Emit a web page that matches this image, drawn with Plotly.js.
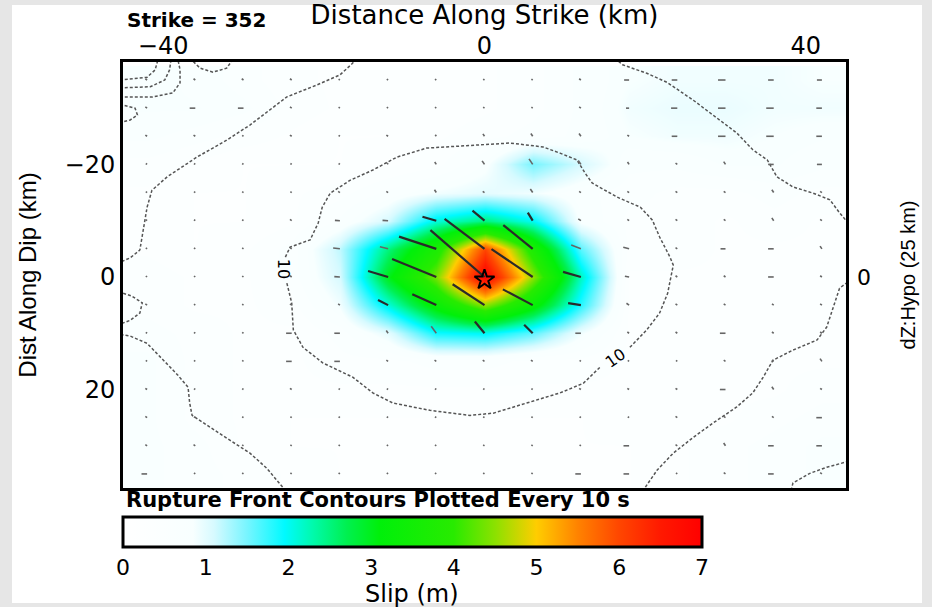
<!DOCTYPE html>
<html><head><meta charset="utf-8">
<script src="https://cdn.plot.ly/plotly-3.0.1.min.js"></script>
<style>html,body{margin:0;padding:0;background:#e6e6e6;}#chart{width:932px;height:607px;}</style>
</head><body><div id="chart"></div>
<script>
// subfault centres (km)
const strikeX = [-42,-36,-30,-24,-18,-12,-6,0,6,12,18,24,30,36,42];
const dipY = [-35,-30,-25,-20,-15,-10,-5,0,5,10,15,20,25,30,35];
// slip field (m), rows follow dipY, columns follow strikeX
const slip = [
 [0.85,0.75,0.6,0.45,0.4,0.35,0.35,0.4,0.5,0.7,0.85,0.9,0.9,0.9,0.85],
 [0.8,0.8,0.7,0.5,0.4,0.35,0.35,0.4,0.5,0.7,0.9,0.95,0.95,0.9,0.9],
 [0.7,0.6,0.5,0.4,0.3,0.3,0.4,0.5,0.6,0.7,0.85,0.9,0.9,0.85,0.8],
 [0.5,0.4,0.3,0.3,0.3,0.4,0.5,0.8,1.5,1.1,0.7,0.7,0.8,0.8,0.7],
 [0.4,0.3,0.3,0.4,0.5,0.7,0.9,1.0,0.9,0.7,0.6,0.5,0.5,0.6,0.5],
 [0.4,0.3,0.3,0.4,0.7,1.1,2.1,2.5,2.0,0.8,0.5,0.5,0.4,0.5,0.4],
 [0.4,0.3,0.4,0.6,1.2,2.5,3.7,6.0,3.7,1.6,0.5,0.5,0.4,0.4,0.4],
 [0.5,0.4,0.4,0.6,1.1,3.0,4.4,6.9,4.5,2.2,0.4,0.4,0.4,0.4,0.4],
 [0.5,0.4,0.4,0.5,0.9,2.1,3.3,4.5,3.3,1.8,0.4,0.4,0.4,0.4,0.4],
 [0.6,0.5,0.4,0.4,0.6,1.0,1.9,2.0,1.6,0.9,0.4,0.4,0.4,0.4,0.4],
 [0.7,0.5,0.4,0.4,0.5,0.5,0.6,0.6,0.5,0.5,0.4,0.4,0.4,0.4,0.4],
 [0.7,0.5,0.4,0.4,0.4,0.4,0.4,0.4,0.4,0.4,0.4,0.4,0.4,0.4,0.5],
 [0.7,0.5,0.4,0.3,0.3,0.3,0.3,0.3,0.3,0.3,0.4,0.4,0.4,0.5,0.6],
 [0.7,0.6,0.4,0.3,0.3,0.3,0.3,0.3,0.3,0.3,0.3,0.4,0.5,0.6,0.7],
 [0.7,0.6,0.5,0.4,0.3,0.3,0.3,0.3,0.3,0.3,0.3,0.4,0.5,0.6,0.7]
];
// slip vector amplitude (m) per subfault
const vecSlip = [
 [0.2,0.2,0.2,0.2,0.15,0.15,0.15,0.15,0.15,0.2,0.4,0.45,0.6,0.45,0.4],
 [0.2,0.45,0.45,0.2,0.15,0.15,0.15,0.15,0.15,0.2,0.25,0.5,0.6,0.6,0.45],
 [0.2,0.2,0.15,0.2,0.15,0.2,0.2,0.3,0.35,0.35,0.2,0.45,0.6,0.6,0.45],
 [0.15,0.15,0.15,0.15,0.15,0.2,0.3,0.45,0.7,0.5,0.3,0.2,0.35,0.45,0.4],
 [0.15,0.15,0.15,0.15,0.2,0.2,0.35,0.2,0.45,0.2,0.2,0.2,0.2,0.35,0.2],
 [0.15,0.15,0.15,0.2,0.4,0.45,1.2,1.5,1.0,0.3,0.2,0.2,0.2,0.35,0.2],
 [0.15,0.15,0.15,0.2,0.55,0.7,3.3,4.7,3.6,0.9,0.5,0.2,0.4,0.45,0.35],
 [0.15,0.15,0.15,0.2,0.45,1.75,4.1,6.9,4.6,1.55,0.35,0.2,0.2,0.45,0.2],
 [0.2,0.15,0.15,0.2,0.2,1.0,2.3,3.5,3.0,1.05,0.3,0.2,0.2,0.2,0.2],
 [0.15,0.15,0.15,0.45,0.45,0.35,0.9,1.55,1.2,0.45,0.2,0.2,0.45,0.2,0.2],
 [0.15,0.15,0.15,0.45,0.45,0.2,0.2,0.2,0.2,0.15,0.15,0.15,0.2,0.2,0.35],
 [0.2,0.15,0.15,0.2,0.15,0.15,0.15,0.15,0.15,0.2,0.2,0.2,0.45,0.35,0.2],
 [0.2,0.15,0.15,0.15,0.15,0.15,0.15,0.15,0.15,0.15,0.15,0.2,0.2,0.2,0.45],
 [0.2,0.2,0.15,0.15,0.15,0.15,0.15,0.15,0.15,0.15,0.45,0.2,0.35,0.45,0.45],
 [0.45,0.15,0.15,0.15,0.15,0.15,0.15,0.15,0.15,0.45,0.45,0.15,0.2,0.45,0.2]
];
// slip vector direction (deg above the up-strike horizontal)
const vecAngle = [
 [45,45,45,45,45,45,45,45,45,45,0,0,0,0,0],
 [45,0,0,45,45,45,45,45,45,45,0,0,0,0,0],
 [45,45,45,45,45,45,65,65,65,65,45,0,0,0,0],
 [45,45,45,45,45,65,65,65,65,65,65,45,65,0,0],
 [45,45,45,45,45,45,65,45,65,45,45,45,45,65,45],
 [45,45,45,45,5,5,22,50,67,45,45,45,45,65,45],
 [45,45,45,45,10,19,25,47,49,30,20,45,0,0,65],
 [45,45,45,45,5,23,30,51,44,22,15,45,45,0,45],
 [45,45,45,45,45,36,33,43,37,12,45,45,45,45,45],
 [45,45,45,0,0,65,63,60,55,0,45,45,0,45,45],
 [45,45,45,0,0,45,45,45,45,45,45,45,45,45,65],
 [45,45,45,45,45,45,45,45,45,45,45,45,0,65,45],
 [45,45,45,45,45,45,45,45,45,45,45,45,45,45,0],
 [45,45,45,45,45,45,45,45,45,45,0,45,65,0,0],
 [0,45,45,45,45,45,45,45,45,0,0,45,45,0,45]
];
// rupture front contours (km)
const front10aX = [18.1,20.2,21.8,22.8,23.3,23.5,23.1,21.8,20.9,19.4,16.5,13.4,12.5,11.5,9.4,7.3,3.2,-1.8,-7.2,-10.9,-13.9,-16.7,-19.2,-20.2,-20.7,-21.7,-24.2,-24.8];
const front10aY = [12.5,9.4,6.4,2.9,-0.7,-2.1,-3.5,-7.1,-10.1,-12.4,-14.2,-16.7,-18.5,-20.8,-22.0,-23.1,-23.8,-23.4,-22.9,-21.3,-19.0,-17.2,-14.9,-12.4,-9.6,-6.6,-5.3,-3.5];
const front10bX = [-24.6,-24.0,-23.8,-22.6,-20.1,-16.4,-13.9,-11.4,-6.8,-1.8,1.1,5.3,9.4,12.3,14.4];
const front10bY = [1.1,4.6,9.4,12.5,15.3,17.8,20.6,22.4,23.7,24.6,24.2,22.4,20.6,18.9,16.0];
const front20LeftX = [-16.0,-16.4,-18.0,-20.9,-24.6,-26.7,-29.2,-32.1,-35.8,-39.5,-41.4,-42.0,-42.5,-42.9,-44.1,-45.4,-46.0,-45.4,-43.9,-42.6,-42.9,-44.1,-45.4,-46.0,-45.4,-44.1,-42.0,-40.0,-38.2,-36.9,-36.7,-36.4,-34.2,-31.7,-29.2,-27.1,-25.1,-24.6];
const front20LeftY = [-38.9,-38.0,-35.9,-34.1,-32.0,-29.7,-27.0,-24.3,-21.3,-17.8,-15.4,-12.4,-7.8,-4.8,-3.4,-2.6,0.2,2.7,3.4,4.6,6.4,7.7,8.4,9.4,10.2,10.5,11.8,14.8,17.4,19.6,22.4,24.6,26.7,29.0,31.3,34.0,37.4,38.8];
const front20RightX = [16.2,17.2,20.2,22.7,26.0,29.3,31.4,33.4,35.2,36.4,38.4,40.9,43.0,44.2,45.5,46.3,45.5,44.2,43.4,42.6,41.4,38.4,35.9,34.7,33.4,31.4,28.4,26.0,23.5,21.5,20.0,19.4];
const front20RightY = [-38.9,-37.7,-36.2,-34.6,-31.4,-27.9,-25.6,-22.6,-20.8,-17.8,-16.0,-14.9,-13.7,-11.4,-9.2,-3.9,0.6,2.0,5.4,8.9,11.2,13.0,14.8,17.8,20.6,23.1,26.0,28.5,31.3,34.3,37.4,38.8];
const frontCornerAX = [-45.4,-42.0,-41.0,-40.8,-40.6], frontCornerAY = [-35.0,-35.5,-36.8,-38.0,-38.9];
const frontCornerBX = [-45.4,-41.6,-39.8,-39.2,-39.0], frontCornerBY = [-33.6,-33.8,-35.0,-36.8,-38.9];
const frontCornerCX = [-45.4,-41.3,-38.8,-37.9,-37.9,-38.2], frontCornerCY = [-32.0,-32.0,-32.7,-34.5,-36.8,-38.9];
const frontCornerDX = [-36.7,-35.4,-33.8,-32.1,-31.2], frontCornerDY = [-38.9,-37.1,-36.4,-37.1,-38.9];
const frontCornerEX = [-45.4,-43.5,-43.2,-44.1,-45.4], frontCornerEY = [-30.7,-30.0,-28.8,-27.9,-27.4];
const frontCornerFX = [38.0,38.4,40.5,42.6,45.5], frontCornerFY = [38.8,36.6,34.9,33.8,32.7];
const frontLabelX = [-25.0, 16.2];
const frontLabelY = [-1.5, 14.4];
const frontLabelText = ['10','10'];
const frontLabelAngle = [90, -35];
// hypocentre
const hypoX = [0], hypoY = [0.5];
// ticks
const xTicks = [-40,0,40];
const yTicks = [-20,0,20];
const slipTicks = [0,1,2,3,4,5,6,7];

// ---- build traces ----
const VEC_KM_PER_M = 1.55;
function vectors(minS, maxS){
  const xs=[], ys=[];
  for(let i=0;i<dipY.length;i++){
    for(let j=0;j<strikeX.length;j++){
      const s=vecSlip[i][j];
      if(s<minS||s>=maxS) continue;
      const a=vecAngle[i][j]*Math.PI/180, L=s*VEC_KM_PER_M;
      xs.push(strikeX[j], strikeX[j]-L*Math.cos(a), null);
      ys.push(dipY[i], dipY[i]-L*Math.sin(a), null);
    }
  }
  return {xs, ys};
}
const big = vectors(1.0, 99), small = vectors(0, 1.0);

const fronts = [[front10aX,front10aY],[front10bX,front10bY],[front20LeftX,front20LeftY],[front20RightX,front20RightY],
  [frontCornerAX,frontCornerAY],[frontCornerBX,frontCornerBY],[frontCornerCX,frontCornerCY],[frontCornerDX,frontCornerDY],
  [frontCornerEX,frontCornerEY],[frontCornerFX,frontCornerFY]];
const fx=[], fy=[];
fronts.forEach(([a,b])=>{ fx.push(...a, null); fy.push(...b, null); });

const colorscale = [
 [0,'#ffffff'],[0.121,'#f8ffff'],[0.157,'#d7faff'],[0.214,'#78f5ff'],[0.279,'#00faff'],
 [0.329,'#00faaa'],[0.386,'#00f050'],[0.443,'#00f00a'],[0.571,'#28eb00'],[0.643,'#8ce100'],
 [0.714,'#ffcd00'],[0.786,'#ff8200'],[0.857,'#ff4600'],[0.929,'#ff1900'],[1,'#ff0000']];

const traces = [
 {type:'heatmap', x:strikeX, y:dipY, z:slip, zmin:0, zmax:7, zsmooth:'best', colorscale:colorscale,
  hoverinfo:'skip',
  colorbar:{orientation:'h', thickness:30, thicknessmode:'pixels', len:579, lenmode:'pixels',
    x:0, xanchor:'left', y:-0.0680, yanchor:'top', xpad:0, ypad:0,
    outlinewidth:3, outlinecolor:'#000', tickvals:slipTicks, ticks:'',
    tickfont:{family:'DejaVu Sans', size:22, color:'#000'}, title:{text:''}}},
 {type:'scatter', mode:'lines', x:fx, y:fy, hoverinfo:'skip',
  line:{color:'#555', width:1.5, dash:'3px,2px'}},
 {type:'scatter', mode:'lines', x:small.xs, y:small.ys, hoverinfo:'skip',
  line:{color:'#666', width:1.6}},
 {type:'scatter', mode:'lines', x:big.xs, y:big.ys, hoverinfo:'skip',
  line:{color:'#2a2a2a', width:2.2}},
 {type:'scatter', mode:'markers', x:hypoX, y:hypoY, hoverinfo:'skip',
  marker:{symbol:'star-open', size:15, color:'#000', line:{width:2, color:'#000'}}},
 {type:'scatter', mode:'markers', x:hypoX, y:hypoY, yaxis:'y2', hoverinfo:'skip',
  marker:{opacity:0}}
];

const annotations = [
 {text:'<b>Strike = 352</b>', xref:'paper', yref:'paper', x:0.003, y:(488-20)/426, xanchor:'left', yanchor:'middle',
  showarrow:false, font:{family:'DejaVu Sans', size:20, color:'#000'}},
 {text:'<b>Rupture Front Contours Plotted Every 10 s</b>', xref:'paper', yref:'paper', x:0.002, y:(488-500)/426,
  xanchor:'left', yanchor:'middle', showarrow:false, font:{family:'DejaVu Sans', size:21, color:'#000'}},
 {text:'Slip (m)', xref:'paper', yref:'paper', x:(412-123)/723, y:(488-594)/426, xanchor:'center', yanchor:'middle',
  showarrow:false, font:{family:'DejaVu Sans', size:24, color:'#000'}}
];
frontLabelX.forEach((x,i)=>annotations.push({text:frontLabelText[i], x:x, y:frontLabelY[i], xref:'x', yref:'y',
  showarrow:false, textangle:frontLabelAngle[i], font:{family:'DejaVu Sans', size:16, color:'#000'}}));

const layout = {
 width:932, height:607,
 margin:{l:123, r:86, t:62, b:119, pad:0, autoexpand:false},
 paper_bgcolor:'#e6e6e6', plot_bgcolor:'#ffffff',
 font:{family:'DejaVu Sans, Liberation Sans, sans-serif', color:'#000', size:24},
 showlegend:false,
 shapes:[{type:'rect', xref:'paper', yref:'paper', x0:(12-123)/723, x1:(922-123)/723, y0:(488-603)/426, y1:(488-5)/426,
   fillcolor:'#ffffff', line:{width:0}, layer:'below'}],
 xaxis:{range:[-45,45], side:'top', tickvals:xTicks, ticks:'', showline:true, mirror:true, linewidth:3, linecolor:'#000',
   showgrid:false, zeroline:false, tickfont:{size:24}, fixedrange:true, automargin:false, ticklabelstandoff:-5,
   title:{text:'Distance Along Strike (km)', font:{size:26}, standoff:2}},
 yaxis:{range:[37.5,-38.2], tickvals:yTicks, ticks:'', showline:true, mirror:true, linewidth:3, linecolor:'#000',
   showgrid:false, zeroline:false, tickfont:{size:24}, fixedrange:true, automargin:false,
   title:{text:'Dist Along Dip (km)', font:{family:'Liberation Sans', size:24}, standoff:22}},
 yaxis2:{overlaying:'y', side:'right', range:[37.5,-38.2], tickvals:[0], ticktext:['0'], ticks:'', showline:false,
   showgrid:false, zeroline:false, tickfont:{size:22}, fixedrange:true, ticklabelstandoff:10, automargin:false,
   title:{text:'dZ:Hypo (25 km)', font:{family:'Liberation Sans', size:20}, standoff:30}},
 annotations:annotations
};
Plotly.newPlot('chart', traces, layout, {displayModeBar:false, staticPlot:true});
</script></body></html>
